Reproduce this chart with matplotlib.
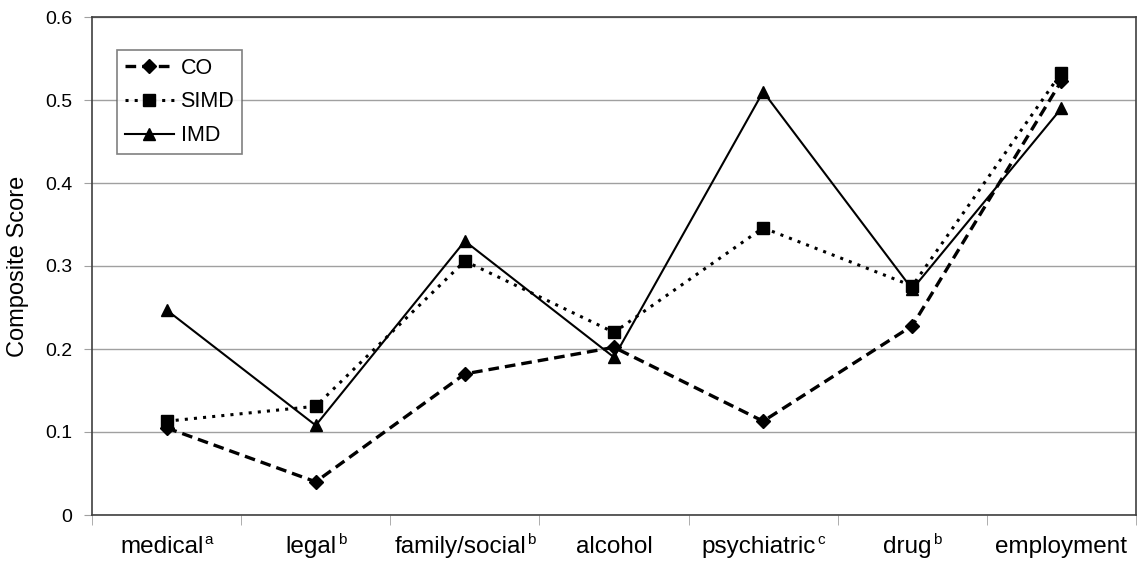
import matplotlib
matplotlib.use("Agg")
import matplotlib.pyplot as plt
import matplotlib.transforms as mtransforms
import numpy as np

plt.rcParams['font.family'] = ['Liberation Sans', 'DejaVu Sans']

# composite scores per domain; superscripts are the footnote letters
categories = ['medical', 'legal', 'family/social', 'alcohol', 'psychiatric', 'drug', 'employment']
footnotes = ['a', 'b', 'b', '', 'c', 'b', '']
co = [0.105, 0.040, 0.170, 0.202, 0.113, 0.228, 0.523]
simd = [0.113, 0.131, 0.306, 0.220, 0.346, 0.276, 0.533]
imd = [0.247, 0.108, 0.330, 0.190, 0.510, 0.272, 0.490]

fig = plt.figure(figsize=(11.38, 5.68), dpi=100)
ax = fig.add_axes([92 / 1138, 1 - 515 / 568, (1136 - 92) / 1138, (515 - 17) / 568])

x = np.arange(len(categories))
ax.plot(x, co, color='black', lw=2.4, ls=(0, (3.2, 1.8)), marker='D', ms=7.5, label='CO', zorder=3)
ax.plot(x, simd, color='black', lw=2.2, ls=(0, (1, 2)), marker='s', ms=8, label='SIMD', zorder=3)
ax.plot(x, imd, color='black', lw=1.5, ls='-', marker='^', ms=8.5, label='IMD', zorder=3)

ax.set_xlim(-0.5, len(categories) - 0.5)
ax.set_ylim(0, 0.6)
ax.set_yticks(np.arange(0, 0.61, 0.1))
ax.set_yticklabels(['0', '0.1', '0.2', '0.3', '0.4', '0.5', '0.6'])
ax.yaxis.grid(True, color='#a0a0a0', lw=1)
ax.set_axisbelow(True)

ax.set_xticks(x)
ax.set_xticklabels([])
ax.set_xticks(np.arange(-0.5, len(categories), 1), minor=True)
ax.tick_params(axis='x', which='major', length=0)
ax.tick_params(axis='x', which='minor', length=7, color='#a0a0a0', direction='out')
ax.tick_params(axis='y', length=6, color='#a0a0a0', labelsize=14, pad=8)

for s in ax.spines.values():
    s.set_color('#404040')
    s.set_linewidth(1.2)

ax.set_ylabel('Composite Score', fontsize=17, labelpad=12)

leg = ax.legend(loc='upper left', bbox_to_anchor=(25 / 1044, 1 - 33 / 498), fontsize=15.5,
                frameon=True, fancybox=False, handlelength=2.3, handletextpad=0.3,
                borderpad=0.35, labelspacing=0.6, borderaxespad=0)
leg.get_frame().set_edgecolor('#606060')
leg.get_frame().set_linewidth(1.2)

# category names on a common baseline, small raised footnote letters after them
renderer = fig.canvas.get_renderer()
trans = mtransforms.blended_transform_factory(ax.transData, ax.transAxes)
label_y = -(553 - 515) / 498
gap = 1.0
for xi, name, note in zip(x, categories, footnotes):
    base = ax.text(0, label_y, name, transform=trans, ha='left', va='baseline', fontsize=17.5)
    sup = ax.text(0, label_y, note, transform=trans, ha='left', va='baseline', fontsize=11)
    wb = base.get_window_extent(renderer).width
    ws = sup.get_window_extent(renderer).width if note else 0
    total = wb + (ws + gap if note else 0)
    cx = ax.transData.transform((xi, 0))[0]
    left = ax.transData.inverted().transform((cx - total / 2, 0))[0]
    base.set_x(left)
    sup.set_x(left)
    sup.set_transform(mtransforms.offset_copy(trans, fig=fig, x=(wb + gap) * 72 / fig.dpi,
                                              y=6.5, units='points'))

fig.savefig('out.png', dpi=100, facecolor='white')
